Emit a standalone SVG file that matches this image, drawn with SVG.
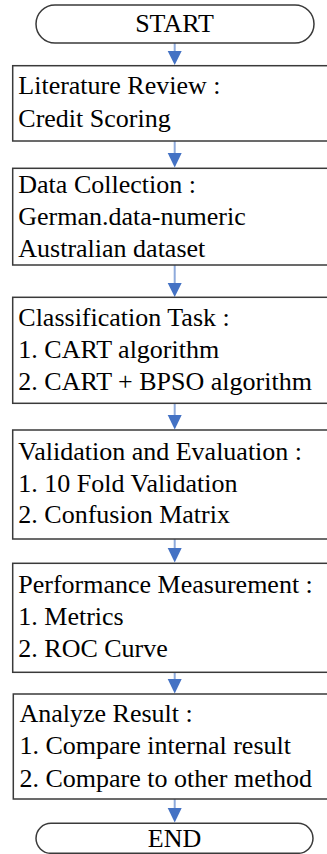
<svg xmlns="http://www.w3.org/2000/svg" width="327" height="854" viewBox="0 0 327 854">
<defs>
<style>
.box{fill:#fff;stroke:#3a3a3a;stroke-width:1.5}
.ln{stroke:#8eaadb;stroke-width:2;fill:none}
.ah{fill:#4472c4}
.t{font-family:'Liberation Serif','Times New Roman',serif;font-size:26px;fill:#000}
.c{text-anchor:middle}
</style>
</defs>
<rect width="327" height="854" fill="#fff"/>
<g id="connectors">
<line class="ln" x1="174.7" y1="43" x2="174.7" y2="52"/><polygon class="ah" points="167.7,51 181.7,51 174.7,65"/>
<line class="ln" x1="174.7" y1="141" x2="174.7" y2="154"/><polygon class="ah" points="167.7,153 181.7,153 174.7,167.5"/>
<line class="ln" x1="174.7" y1="265" x2="174.7" y2="284"/><polygon class="ah" points="167.7,283 181.7,283 174.7,297"/>
<line class="ln" x1="174.7" y1="403.3" x2="174.7" y2="416"/><polygon class="ah" points="167.7,415 181.7,415 174.7,429.5"/>
<line class="ln" x1="174.7" y1="539" x2="174.7" y2="549"/><polygon class="ah" points="167.7,548 181.7,548 174.7,562.5"/>
<line class="ln" x1="174.7" y1="672.3" x2="174.7" y2="680"/><polygon class="ah" points="167.7,679 181.7,679 174.7,693.5"/>
<line class="ln" x1="174.7" y1="799" x2="174.7" y2="809"/><polygon class="ah" points="167.7,808 181.7,808 174.7,822.5"/>
</g>
<g id="start">
<rect class="box" x="36" y="5" width="278" height="38" rx="19" ry="19"/>
<text class="t c" x="174.5" y="32">START</text>
</g>
<g id="literature">
<rect class="box" x="12.7" y="65.7" width="340" height="75.3"/>
<text class="t" x="18.3" y="94">Literature Review :</text>
<text class="t" x="18.3" y="127">Credit Scoring</text>
</g>
<g id="data">
<rect class="box" x="12.7" y="168.3" width="340" height="96.7"/>
<text class="t" x="18.3" y="193.3">Data Collection :</text>
<text class="t" x="18.3" y="225">German.data-numeric</text>
<text class="t" x="18.3" y="256.7">Australian dataset</text>
</g>
<g id="classification">
<rect class="box" x="12.7" y="297.3" width="340" height="106"/>
<text class="t" x="18.3" y="325.7">Classification Task :</text>
<text class="t" x="18.3" y="357.7">1. CART algorithm</text>
<text class="t" x="18.3" y="390">2. CART + BPSO algorithm</text>
</g>
<g id="validation">
<rect class="box" x="12.7" y="430" width="340" height="109"/>
<text class="t" x="18.3" y="459.7">Validation and Evaluation :</text>
<text class="t" x="18.3" y="491.7">1. 10 Fold Validation</text>
<text class="t" x="18.3" y="523.3">2. Confusion Matrix</text>
</g>
<g id="performance">
<rect class="box" x="12.7" y="563.3" width="340" height="109"/>
<text class="t" x="18.3" y="593.3">Performance Measurement :</text>
<text class="t" x="18.3" y="625">1. Metrics</text>
<text class="t" x="18.3" y="656.7">2. ROC Curve</text>
</g>
<g id="analyze">
<rect class="box" x="13.3" y="694" width="340" height="105"/>
<text class="t" x="19.5" y="721.7">Analyze Result :</text>
<text class="t" x="19.5" y="754.3">1. Compare internal result</text>
<text class="t" x="19.5" y="786.7">2. Compare to other method</text>
</g>
<g id="end">
<rect class="box" x="36" y="823.3" width="277" height="30" rx="15" ry="15"/>
<text class="t c" x="174.5" y="846.7">END</text>
</g>
</svg>
